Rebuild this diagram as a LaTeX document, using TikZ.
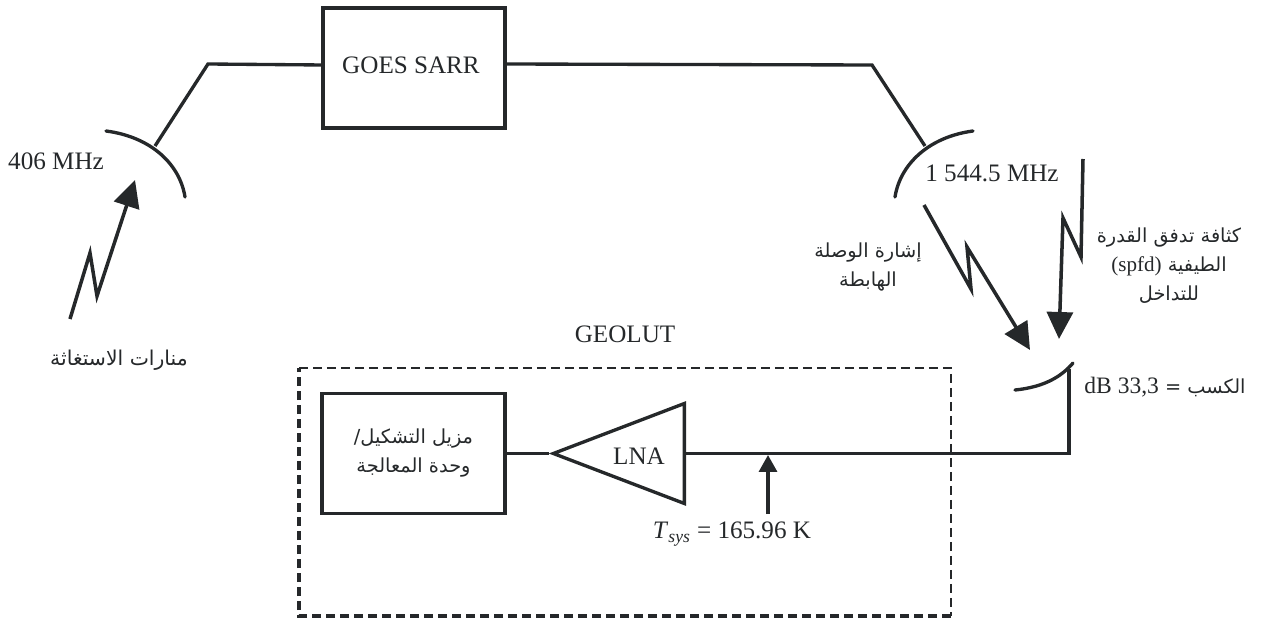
\documentclass[tikz,border=0pt]{standalone}
\usepackage{fontspec}
\setmainfont{Liberation Serif}
\newfontfamily\arabicfont[Script=Arabic]{DejaVu Sans}
\TeXXeTstate=1
\usetikzlibrary{arrows.meta,shapes.geometric}
\definecolor{tinta}{HTML}{25282A}
\begin{document}
\begin{tikzpicture}[
        x=0.02cm, y=-0.02cm,
        every node/.style={font=\fontsize{14.3}{17}\selectfont, text=tinta},
        bloque/.style={draw=tinta, line width=1.9pt, fill=white, inner sep=0pt},
        amplif/.style={draw=tinta, line width=1.9pt, isosceles triangle, isosceles triangle stretches, shape border rotate=180, minimum width=2.0cm, minimum height=2.62cm, inner sep=0pt},
        etiqueta/.style={align=center, inner sep=0pt},
        arabe/.style={align=center, inner sep=0pt, font=\arabicfont\fontsize{11}{16.5}\selectfont},
        linea/.style={line width=1.9pt, draw=tinta},
        antena/.style={line width=1.9pt, draw=tinta, line cap=round},
        rayo/.style={line width=2pt, draw=tinta, -{Triangle[length=0.54cm, width=0.52cm]}},
        sonda/.style={line width=1.9pt, draw=tinta, -{Triangle[length=0.34cm, width=0.36cm]}},
        borde/.style={draw=tinta, dash pattern=on 0.18cm off 0.1cm}
    ]
    \useasboundingbox (0,0) rectangle (1261,618);

    % --- SATELITE ---
    \node[bloque, minimum width=3.64cm, minimum height=2.4cm] (sarr) at (414,68) {};
    \node[etiqueta] (sarrtxt) at (411,65) {GOES SARR};

    \coordinate (codoA) at (208,64);
    \coordinate (focoA) at (155,146);
    \coordinate (entrada) at (323,65);
    \coordinate (salida) at (505,64);
    \coordinate (codoB) at (872,65);
    \coordinate (focoB) at (925,146);
    \coordinate (focoC) at (1069,369);
    \coordinate (bajada) at (1069,453.5);

    \draw[linea] (focoA) -- (codoA) -- (entrada);
    \draw[linea] (salida) -- (codoB) -- (focoB);

    \draw[antena] (106,131) .. controls (152,137) and (180,165) .. (185,197);
    \draw[antena] (973,131) .. controls (928,137) and (900,165) .. (895,197);
    \draw[antena] (1015,390) .. controls (1045,387) and (1062,376) .. (1073,363);

    \node[etiqueta] (uplink) at (56,161) {406 MHz};
    \node[etiqueta] (downlink) at (992,173) {1 544.5 MHz};

    % --- RAYOS ---
    \coordinate (baliza) at (70,319);
    \coordinate (balizaA) at (90,253);
    \coordinate (balizaB) at (97,296);
    \coordinate (balizaC) at (135,180);
    \draw[rayo] (baliza) -- (balizaA) -- (balizaB) -- (balizaC);

    \coordinate (senal) at (924,205);
    \coordinate (senalA) at (971,289);
    \coordinate (senalB) at (967,247);
    \coordinate (senalC) at (1030,350);
    \draw[rayo] (senal) -- (senalA) -- (senalB) -- (senalC);

    \coordinate (ruido) at (1083,159);
    \coordinate (ruidoA) at (1081,257);
    \coordinate (ruidoB) at (1063,218);
    \coordinate (ruidoC) at (1059,339);
    \draw[rayo] (ruido) -- (ruidoA) -- (ruidoB) -- (ruidoC);

    \node[arabe, font=\arabicfont\fontsize{11.6}{16.5}\selectfont] (balizas) at (119,360) {\beginR منارات الاستغاثة\endR};
    \node[arabe] (senaltxt) at (868,267) {\beginR إشارة الوصلة\endR\\\beginR الهابطة\endR};
    \node[arabe] (ruidotxt) at (1169,266) {\beginR كثافة تدفق القدرة\endR\\\beginR الطيفية {\rmfamily\fontsize{12}{16}\selectfont\beginL(spfd)\endL}\endR\\\beginR للتداخل\endR};
    \node[arabe] (ganancia) at (1165,387) {\beginR الكسب = {\rmfamily\fontsize{13.4}{16}\selectfont\beginL 33,3\endL{} \beginL dB\endL}\endR};

    % --- GEOLUT ---
    \node[etiqueta] (geolut) at (625,334) {GEOLUT};
    \coordinate (esqA) at (299,368);
    \coordinate (esqB) at (951,368);
    \coordinate (esqC) at (951,616);
    \coordinate (esqD) at (299,616);
    \draw[borde, line width=1.1pt] (esqA) -- (esqB) -- (esqC);
    \draw[borde, line width=2.2pt] (esqC) -- (esqD) -- (esqA);

    \node[bloque, minimum width=3.66cm, minimum height=2.4cm, arabe, draw=tinta] (demod) at (413.5,453.5) {\beginR مزيل التشكيل/\endR\\\beginR وحدة المعالجة\endR};
    \node[amplif, anchor=apex] (lna) at (549,453.5) {};
    \node[etiqueta] (lnatxt) at (639,456) {LNA};

    \draw[linea] (demod.east) -- (lna.apex);
    \draw[linea] (lna.lower side) -- (bajada) -- (focoC);

    \coordinate (tsysP) at (768,455);
    \node[etiqueta] (tsys) at (732,534) {\textit{T}\textsubscript{\textit{sys}} = 165.96 K};
    \coordinate (tsysB) at (768,514);
    \draw[sonda] (tsysB) -- (tsysP);
\end{tikzpicture}
\end{document}
